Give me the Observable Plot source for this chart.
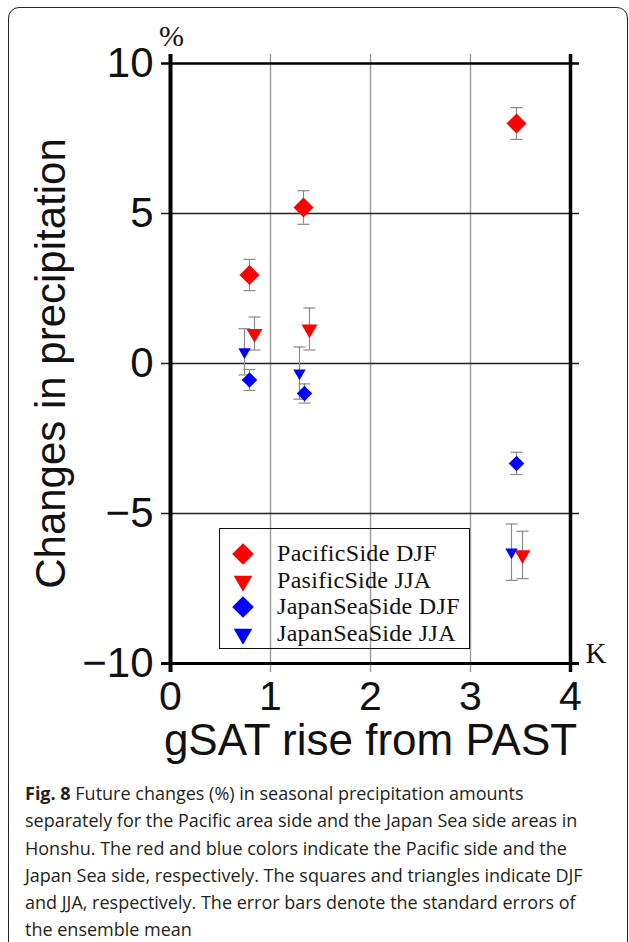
<!DOCTYPE html>
<html>
<head>
<meta charset="utf-8">
<script src="https://cdn.jsdelivr.net/npm/d3@7"></script>
<script src="https://cdn.jsdelivr.net/npm/@observablehq/plot@0.6"></script>
<style>
  html, body { margin: 0; padding: 0; background: #fff; }
  body { width: 629px; height: 942px; overflow: hidden; position: relative; }
  #frame { position: absolute; left: 8px; top: 7px; width: 620px; height: 980px;
           border: 1.5px solid #222; border-radius: 11px; box-sizing: border-box; }
  #chart { position: absolute; left: 0; top: 0; }
  #legend { position: absolute; left: 219px; top: 528px; width: 251px; height: 121px;
            border: 1.6px solid #111; box-sizing: border-box; }
  .lrow { position: absolute; left: 0; height: 26px; white-space: nowrap; }
  .lrow svg { position: absolute; left: 10px; top: 0; }
  .lrow span { position: absolute; left: 57px; top: -2px; font-family: "Liberation Serif", serif;
               font-size: 24px; line-height: 28px; color: #111; letter-spacing: 0.3px; }
  #caption { position: absolute; left: 25px; top: 780px; width: 600px; font-family: "Open Sans", sans-serif;
             font-size: 18px; line-height: 27.3px; color: #231f20; white-space: nowrap; }
  #caption b { font-weight: 700; }
</style>
</head>
<body>
<div id="frame"></div>
<div id="chart"></div>
<div id="legend"></div>
<div id="caption"></div>
<script>
// ---- data ----
const seriesNames = ["PacificSide DJF", "PasificSide JJA", "JapanSeaSide DJF", "JapanSeaSide JJA"];

const pacDJF_x   = [0.79, 1.33, 3.46];
const pacDJF_y   = [2.95, 5.20, 8.00];
const pacDJF_err = [0.52, 0.56, 0.53];

const pacJJA_x   = [0.84, 1.39, 3.52];
const pacJJA_y   = [1.00, 1.15, -6.38];
const pacJJA_err = [0.55, 0.70, 0.79];

const jsDJF_x    = [0.79, 1.34, 3.46];
const jsDJF_y    = [-0.55, -1.00, -3.33];
const jsDJF_err  = [0.35, 0.32, 0.37];

const jsJJA_x    = [0.74, 1.29, 3.41];
const jsJJA_y    = [0.39, -0.32, -6.29];
const jsJJA_err  = [0.77, 0.87, 0.94];

const xTicks = [0, 1, 2, 3, 4];
const yTicks = [-10, -5, 0, 5, 10];
const xGrid = [1, 2, 3];
const yGrid = [-5, 0, 5];
const xLabel = "gSAT rise from PAST";
const yLabel = "Changes in precipitation";
const yUnit = "%";
const xUnit = "K";
const captionBold = "Fig. 8";
const captionLines = [
  " Future changes (%) in seasonal precipitation amounts",
  "separately for the Pacific area side and the Japan Sea side areas in",
  "Honshu. The red and blue colors indicate the Pacific side and the",
  "Japan Sea side, respectively. The squares and triangles indicate DJF",
  "and JJA, respectively. The error bars denote the standard errors of",
  "the ensemble mean"
];

// ---- build table ----
function rows(name, xs, ys, es) {
  return xs.map((x, i) => ({series: name, x, y: ys[i], lo: ys[i] - es[i], hi: ys[i] + es[i]}));
}
const pacDJF = rows(seriesNames[0], pacDJF_x, pacDJF_y, pacDJF_err);
const pacJJA = rows(seriesNames[1], pacJJA_x, pacJJA_y, pacJJA_err);
const jsDJF  = rows(seriesNames[2], jsDJF_x, jsDJF_y, jsDJF_err);
const jsJJA  = rows(seriesNames[3], jsJJA_x, jsJJA_y, jsJJA_err);
const all = [...pacDJF, ...pacJJA, ...jsDJF, ...jsJJA];

// horizontal cap symbol for error bars
const capSymbol = { draw(ctx) { ctx.moveTo(-6, 0); ctx.lineTo(6, 0); } };
const errStroke = "#8a8a8a";
const fmt = d => d < 0 ? "\u2212" + Math.abs(d) : String(d);

const chart = Plot.plot({
  width: 629,
  height: 770,
  marginLeft: 170,
  marginRight: 59,
  marginTop: 63,
  marginBottom: 107,
  x: { domain: [0, 4] },
  y: { domain: [-10, 10] },
  style: { fontFamily: "'Liberation Sans', Arial, sans-serif", background: "transparent", overflow: "visible", color: "#111" },
  marks: [
    Plot.gridX(xGrid, { stroke: "#9a9a9a", strokeOpacity: 1, strokeWidth: 1.4, insetTop: -9, insetBottom: -9 }),
    Plot.gridY(yGrid, { stroke: "#222", strokeOpacity: 1, strokeWidth: 1.4, insetLeft: -9, insetRight: -9 }),
    Plot.axisY(yTicks, { tickSize: 0, tickPadding: 17, fontSize: 42, tickFormat: fmt,
      label: yLabel, labelAnchor: "center", labelOffset: 135, labelArrow: "none" }),
    Plot.axisX(xTicks, { tickSize: 0, tickPadding: 17, fontSize: 41, tickFormat: fmt, label: null }),
    Plot.text([xLabel], { text: d => d, frameAnchor: "bottom", textAnchor: "middle", lineAnchor: "bottom",
      dy: 91, fontSize: 44, fill: "#111" }),
    // error bars
    Plot.ruleX(all, { x: "x", y1: "lo", y2: "hi", stroke: errStroke, strokeWidth: 1.2 }),
    Plot.dot(all, { x: "x", y: "lo", symbol: capSymbol, stroke: errStroke, strokeWidth: 1.2, fill: "none" }),
    Plot.dot(all, { x: "x", y: "hi", symbol: capSymbol, stroke: errStroke, strokeWidth: 1.2, fill: "none" }),
    // markers
    Plot.dot(pacDJF, { x: "x", y: "y", symbol: "diamond2", r: 9, fill: "#ff0000", stroke: "none" }),
    Plot.dot(pacJJA, { x: "x", y: "y", symbol: "triangle", r: 5.9, rotate: 180, fill: "#ff0000", stroke: "none" }),
    Plot.dot(jsDJF,  { x: "x", y: "y", symbol: "diamond2", r: 7, fill: "#0000ff", stroke: "none" }),
    Plot.dot(jsJJA,  { x: "x", y: "y", symbol: "triangle", r: 4.6, rotate: 180, fill: "#0000ff", stroke: "none" }),
    // frame with outward corner ticks
    Plot.ruleX([xTicks[0]], { stroke: "#000", strokeWidth: 4, insetTop: -9, insetBottom: -9 }),
    Plot.ruleX([xTicks[xTicks.length - 1]], { stroke: "#000", strokeWidth: 3.5, insetTop: -9, insetBottom: -9 }),
    Plot.ruleY([yTicks[0]], { stroke: "#000", strokeWidth: 3, insetLeft: -9, insetRight: -9 }),
    Plot.ruleY([yTicks[yTicks.length - 1]], { stroke: "#000", strokeWidth: 2.5, insetLeft: -9, insetRight: -9 }),
    // unit labels
    Plot.text([yUnit], { text: d => d, frameAnchor: "top-left", textAnchor: "middle", lineAnchor: "bottom",
      dx: 1, dy: -18, fontSize: 30, fontFamily: "'Liberation Serif', serif", fill: "#111" }),
    Plot.text([xUnit], { text: d => d, frameAnchor: "bottom-right", textAnchor: "start", lineAnchor: "bottom",
      dx: 15, dy: -1, fontSize: 29, fontFamily: "'Liberation Serif', serif", fill: "#111" })
  ]
});
document.getElementById("chart").appendChild(chart);

// ---- legend ----
const legendStyle = [
  { fill: "#ff0000", type: d3.symbolDiamond2, size: 300, rot: 0 },
  { fill: "#ff0000", type: d3.symbolTriangle, size: 150, rot: 180 },
  { fill: "#0000ff", type: d3.symbolDiamond2, size: 300, rot: 0 },
  { fill: "#0000ff", type: d3.symbolTriangle, size: 150, rot: 180 }
];
const legend = document.getElementById("legend");
seriesNames.forEach((name, i) => {
  const row = document.createElement("div");
  row.className = "lrow";
  row.style.top = (12 + i * 26.7) + "px";
  const s = legendStyle[i];
  const path = d3.symbol(s.type, s.size)();
  row.innerHTML = `<svg width="26" height="26" viewBox="-13 -13 26 26"><path d="${path}" fill="${s.fill}" transform="rotate(${s.rot})"/></svg><span>${name}</span>`;
  legend.appendChild(row);
});

// ---- caption ----
const cap = document.getElementById("caption");
cap.innerHTML = `<b>${captionBold}</b>` + captionLines.map((l, i) => (i ? "<br>" : "") + l).join("");
</script>
</body>
</html>
